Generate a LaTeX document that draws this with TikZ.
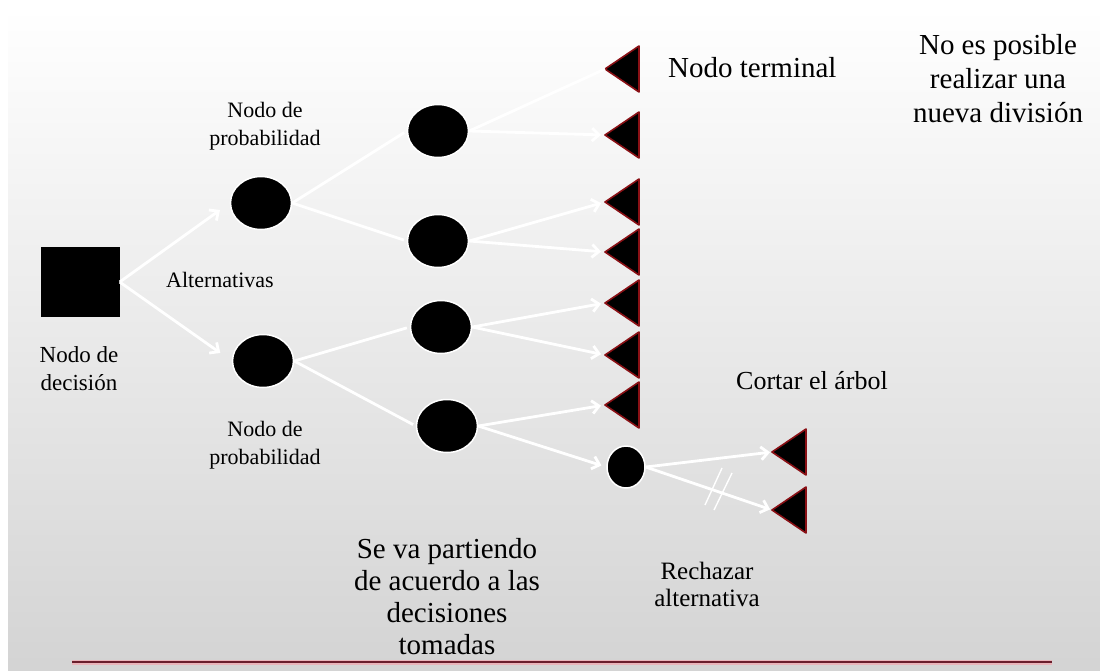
\documentclass[tikz,border=0pt]{standalone}
\usepackage{fontspec}
\setmainfont{Liberation Serif}
\newfontfamily\tnr{Liberation Serif}
\usetikzlibrary{arrows.meta,shapes.geometric}
\definecolor{termred}{HTML}{8A1015}
\definecolor{linered}{HTML}{6A1E2C}
\definecolor{glow}{HTML}{F2A7B0}
\begin{document}
\begin{tikzpicture}[x=1pt,y=-1pt,
  conn/.style={draw=white,line width=2.8pt},
  arr/.style={conn,-{Straight Barb[length=7pt,width=13pt]}},
  chance/.style={ellipse,fill=black,draw=white,line width=1.5pt,minimum width=61pt,minimum height=53pt,inner sep=0pt},
  term/.style={fill=black,draw=termred,line width=1.6pt,line join=round},
  lbl/.style={align=center,inner sep=0pt},
  fa/.style={font={\tnr\fontsize{22}{28}\selectfont}},
  fb/.style={font={\tnr\fontsize{29}{34}\selectfont}},
  ]
\useasboundingbox (0,0) rectangle (1100,670);
\fill[white] (0,0) rectangle (1100,670);
\shade[top color=white, bottom color=black!17] (8,8) rectangle (1100,670);

% decision node
\node[fill=black,minimum width=79pt,minimum height=70pt,inner sep=0pt] (sq) at (80,282) {};
% chance nodes
\node[chance] (p1) at (261,203) {};
\node[chance] (p2) at (263,361) {};
\node[chance] (c1) at (438,131) {};
\node[chance] (c2) at (438,241) {};
\node[chance] (c3) at (441,327) {};
\node[chance] (c4) at (447,426) {};
\node[chance,minimum width=38pt,minimum height=42pt] (s) at (626,467) {};

% terminal nodes
\foreach \n/\y in {1/69,2/135,3/202,4/252,5/303,6/355,7/405}{
  \coordinate (t\n) at (605,\y);
  \filldraw[term] (t\n) -- ++(34,-23) -- ++(0,46) -- cycle;
}
\coordinate (t8) at (772,452);
\filldraw[term] (t8) -- ++(34,-23) -- ++(0,46) -- cycle;
\coordinate (t9) at (772,510);
\filldraw[term] (t9) -- ++(34,-23) -- ++(0,46) -- cycle;

% connectors
\draw[arr,shorten >=12pt] (sq.east) -- (p1.west);
\draw[arr,shorten >=14pt] (sq.east) -- (p2.west);
\draw[conn,shorten >=3pt] (p1.east) -- (c1.west);
\draw[conn,shorten >=3pt] (p1.east) -- (c2.west);
\draw[conn,shorten >=3pt] (p2.east) -- (c3.west);
\draw[conn,shorten >=3pt] (p2.east) -- (c4.west);
\draw[conn] (c1.east) -- (t1);
\draw[arr,shorten >=4pt] (c1.east) -- (t2);
\draw[arr,shorten >=4pt] (c2.east) -- (t3);
\draw[arr,shorten >=4pt] (c2.east) -- (t4);
\draw[arr,shorten >=4pt] (c3.east) -- (t5);
\draw[arr,shorten >=4pt] (c3.east) -- (t6);
\draw[arr,shorten >=4pt] (c4.east) -- (t7);
\draw[arr,shorten >=5pt] (c4.east) -- (s.west);
\draw[arr,shorten >=2pt] (s.east) -- (t8);
\draw[arr,shorten >=2pt] (s.east) -- (t9);
% cut marks
\draw[white,line width=1.4pt] (705,505) -- (722,468);
\draw[white,line width=1.4pt] (714,510) -- (732,473);

% labels
\node[lbl,fa] (lp1) at (265,126) {Nodo de\\probabilidad};
\node[lbl,fa] (lalt) at (220,280) {Alternativas};
\node[lbl,font={\tnr\fontsize{23}{28}\selectfont}] (ldec) at (79,369) {Nodo de\\decisión};
\node[lbl,fa] (lp2) at (265,445) {Nodo de\\probabilidad};
\node[lbl,fb,anchor=west] (lterm) at (668,68) {Nodo terminal};
\node[lbl,fb] (lno) at (998,79) {No es posible\\realizar una\\nueva división};
\node[lbl,font={\tnr\fontsize{26}{30}\selectfont}] (lcut) at (812,381) {Cortar el árbol};
\node[lbl,font={\tnr\fontsize{29}{32}\selectfont}] (lse) at (447,597) {Se va partiendo\\de acuerdo a las\\decisiones\\tomadas};
\node[lbl,font={\tnr\fontsize{25}{27}\selectfont}] (lrech) at (707,584) {Rechazar\\alternativa};

% bottom rule
\draw[glow,line width=5pt,opacity=0.7] (72,662) -- (1052,662);
\draw[linered,line width=2pt] (72,662) -- (1052,662);
\end{tikzpicture}
\end{document}
